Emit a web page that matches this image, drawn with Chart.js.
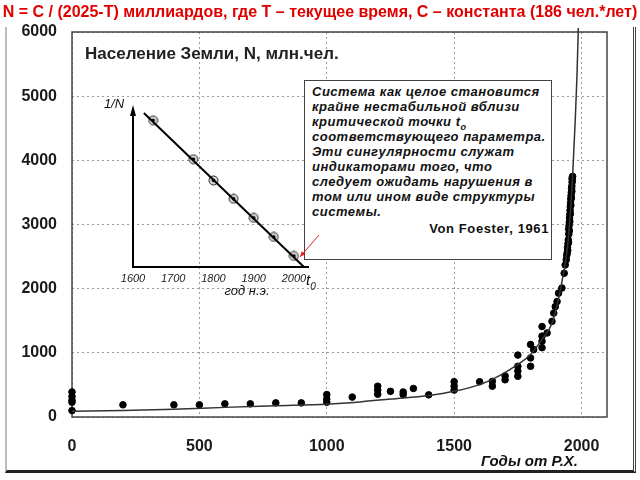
<!DOCTYPE html>
<html lang="ru">
<head>
    <meta charset="UTF-8">
    <title>Население Земли</title>
    <script src="https://cdn.jsdelivr.net/npm/chart.js"></script>
    <style>
        body {
            margin: 0;
            background: white;
            font-family: "Liberation Sans", Arial, sans-serif;
        }
        .slide {
            position: relative;
            width: 640px;
            height: 480px;
            overflow: hidden;
        }
        .frame {
            position: absolute;
            left: 5px;
            top: 27px;
            width: 626px;
            height: 443px;
            border-left: 2px solid #bbb;
            border-right: 3px double #444;
            border-bottom: 3px solid #222;
        }
        #chart { position: absolute; left: 0; top: 0; }
        #inset { position: absolute; left: 90px; top: 95px; z-index: 3; }
        .title {
            position: absolute;
            left: 0;
            top: 3px;
            width: 640px;
            text-align: center;
            color: #e00000;
            font-weight: bold;
            font-size: 16px;
            white-space: nowrap;
        }
        .name {
            position: absolute;
            left: 85px;
            top: 44px;
            font-weight: bold;
            font-size: 17px;
            color: #222;
            white-space: nowrap;
        }
        .quote {
            position: absolute;
            left: 304px;
            top: 80px;
            width: 248px;
            height: 180px;
            box-sizing: border-box;
            border: 1px solid #444;
            background: white;
            z-index: 2;
            padding: 3px 2px 0 7px;
            font-style: italic;
            font-weight: bold;
            font-size: 13px;
            line-height: 15px;
            letter-spacing: 0.5px;
            color: #111;
            white-space: nowrap;
        }
        .quote sub { font-size: 9px; line-height: 0; }
        .quote .author {
            font-style: normal;
            text-align: right;
            margin-top: 2px;
            letter-spacing: 0.6px;
        }
        .axis-name {
            position: absolute;
            left: 481px;
            top: 452px;
            font-style: italic;
            font-weight: bold;
            font-size: 15px;
            color: #111;
        }
    </style>
</head>
<body>
    <div class="slide">
        <div class="frame"></div>
        <canvas id="chart" width="640" height="480"></canvas>
        <div class="title">N = C / (2025-T) миллиардов, где T – текущее время, C – константа (186 чел.*лет)</div>
        <div class="name">Население Земли, N, млн.чел.</div>
        <div class="quote">
            Система как целое становится<br>
            крайне нестабильной вблизи<br>
            критической точки t<sub>o</sub><br>
            соответствующего параметра.<br>
            Эти сингулярности служат<br>
            индикаторами того, что<br>
            следует ожидать нарушения в<br>
            том или ином виде структуры<br>
            системы.
            <div class="author">Von Foester, 1961</div>
        </div>
        <canvas id="inset" width="240" height="205"></canvas>
        <div class="axis-name">Годы от Р.Х.</div>
    </div>

    <script>
        // население, млн чел. (точки)
        let years = [
            0, 0, 0, 0, 0, 200, 400, 500, 600, 700, 800, 900,
            1000, 1000, 1000, 1100, 1200, 1200, 1200, 1250, 1300, 1300, 1340, 1400,
            1500, 1500, 1500, 1600, 1650, 1650, 1700, 1700,
            1750, 1750, 1750, 1750, 1800, 1800, 1800, 1812,
            1845, 1845, 1845, 1845, 1865, 1884, 1891, 1897, 1904, 1910, 1923, 1932, 1936,
            1940, 1942, 1944, 1945, 1946, 1947, 1948, 1949, 1950, 1950, 1951, 1952, 1952,
            1953, 1954, 1954, 1955, 1956, 1956, 1957, 1958, 1958, 1959, 1960, 1960,
            1961, 1962, 1962, 1963, 1963, 1964, 1965
        ];
        let population = [
            390, 320, 260, 230, 100, 190, 190, 190, 205, 205, 220, 220,
            350, 280, 230, 310, 480, 420, 355, 400, 390, 350, 445, 345,
            550, 480, 420, 550, 555, 480, 640, 580,
            965, 790, 715, 635, 1130, 920, 790, 1050,
            1410, 1260, 1180, 1080, 1310, 1490, 1620, 1720, 1800, 1930, 2010, 2240, 2370,
            2450, 2520, 2560, 2640, 2600, 2700, 2760, 2720, 2850, 2930, 2980, 3030, 2900,
            3100, 3150, 3050, 3220, 3280, 3170, 3340, 3400, 3300, 3450, 3500, 3410,
            3560, 3600, 3520, 3660, 3720, 3700, 3750
        ];

        // гиперболическая кривая
        let curveYears = [0, 200, 400, 600, 800, 1000, 1130, 1250, 1400, 1500, 1600, 1680,
            1750, 1800, 1845, 1885, 1910, 1925, 1945, 1965, 1975, 1982, 1987, 1990];
        let curveValues = [90, 100, 120, 150, 175, 200, 235, 280, 335, 400, 505, 650,
            820, 975, 1210, 1470, 1850, 2150, 2650, 3750, 4600, 5300, 6000, 6500];

        let xTicks = [0, 500, 1000, 1500, 2000];
        let yTicks = [0, 1000, 2000, 3000, 4000, 5000, 6000];

        // врезка 1/N
        let insetYears = [1650, 1750, 1800, 1850, 1900, 1950, 2000];
        let insetInverse = [2.0, 1.47, 1.18, 0.93, 0.67, 0.41, 0.15];
        let lineYears = [1627, 2025];
        let lineInverse = [2.1, 0];
        let insetTicks = [1600, 1700, 1800, 1900, 2000];

        Chart.defaults.font.family = '"Liberation Sans", Arial, sans-serif';
        Chart.defaults.animation = false;

        let frame = {
            id: 'frame',
            beforeDatasetsDraw(chart) {
                let a = chart.chartArea;
                let ctx = chart.ctx;
                ctx.save();
                ctx.strokeStyle = '#444';
                ctx.lineWidth = 1.5;
                ctx.strokeRect(a.left, a.top, a.right - a.left, a.bottom - a.top);
                ctx.restore();
            }
        };

        new Chart(document.getElementById('chart'), {
            type: 'scatter',
            data: {
                datasets: [{
                    data: curveYears.map((x, i) => ({ x: x, y: curveValues[i] })),
                    showLine: true,
                    borderColor: '#333',
                    borderWidth: 1.5,
                    pointRadius: 0,
                    cubicInterpolationMode: 'monotone',
                    clip: { left: 0, top: 4, right: 0, bottom: 0 }
                }, {
                    data: years.map((x, i) => ({ x: x, y: population[i] })),
                    backgroundColor: '#000',
                    borderColor: '#000',
                    pointRadius: 3.3,
                    clip: false
                }]
            },
            options: {
                responsive: false,
                layout: { padding: { top: 32, right: 33, left: 0, bottom: 0 } },
                plugins: { legend: { display: false }, tooltip: { enabled: false } },
                scales: {
                    x: {
                        type: 'linear',
                        min: 0,
                        max: 2100,
                        afterBuildTicks: s => { s.ticks = xTicks.map(v => ({ value: v })); },
                        afterFit: s => { s.height = 63; },
                        grid: { color: '#9a9a9a', drawTicks: false },
                        border: { display: false, dash: [2, 3] },
                        ticks: {
                            padding: 20,
                            color: '#1a1a1a',
                            font: { size: 16, weight: 'bold' },
                            callback: v => String(v)
                        }
                    },
                    y: {
                        min: 0,
                        max: 6000,
                        afterBuildTicks: s => { s.ticks = yTicks.map(v => ({ value: v })); },
                        afterFit: s => { s.width = 72; },
                        grid: { color: '#9a9a9a', drawTicks: false },
                        border: { display: false, dash: [2, 3] },
                        ticks: {
                            padding: 15,
                            color: '#1a1a1a',
                            font: { size: 16, weight: 'bold' },
                            callback: v => String(v)
                        }
                    }
                }
            },
            plugins: [frame]
        });

        // кружок с точкой для врезки
        let ring = document.createElement('canvas');
        ring.width = 11;
        ring.height = 11;
        let rc = ring.getContext('2d');
        rc.fillStyle = '#d8d8d8';
        rc.strokeStyle = '#222';
        rc.lineWidth = 1;
        rc.beginPath();
        rc.arc(5.5, 5.5, 4.5, 0, 2 * Math.PI);
        rc.fill();
        rc.stroke();
        rc.fillStyle = '#000';
        rc.beginPath();
        rc.arc(5.5, 5.5, 1.8, 0, 2 * Math.PI);
        rc.fill();

        let insetDecor = {
            id: 'insetDecor',
            afterDraw(chart) {
                let ctx = chart.ctx;
                let a = chart.chartArea;
                let sx = chart.scales.x;
                let sy = chart.scales.y;
                ctx.save();
                // стрелка оси 1/N
                ctx.fillStyle = '#000';
                ctx.beginPath();
                ctx.moveTo(a.left, a.top - 5);
                ctx.lineTo(a.left - 3, a.top + 6);
                ctx.lineTo(a.left + 3, a.top + 6);
                ctx.closePath();
                ctx.fill();

                ctx.fillStyle = '#111';
                ctx.textAlign = 'center';
                ctx.textBaseline = 'middle';
                ctx.font = 'italic 13px "Liberation Sans", Arial';
                ctx.fillText('1/N', a.left - 19, a.top - 6);
                ctx.fillText('год н.э.', 157, 196);
                ctx.font = 'italic 15px "Liberation Sans", Arial';
                ctx.fillText('t', 218, 186);
                ctx.font = 'italic 10px "Liberation Sans", Arial';
                ctx.fillText('0', 223, 192);

                // красная стрелка к точке t0
                let tx = sx.getPixelForValue(insetYears[6]) + 6;
                let ty = sy.getPixelForValue(insetInverse[6]) + 1;
                let fx = 229, fy = 140;
                let ang = Math.atan2(ty - fy, tx - fx);
                ctx.strokeStyle = '#e02020';
                ctx.fillStyle = '#e02020';
                ctx.lineWidth = 1;
                ctx.beginPath();
                ctx.moveTo(fx, fy);
                ctx.lineTo(tx, ty);
                ctx.stroke();
                ctx.beginPath();
                ctx.moveTo(tx, ty);
                ctx.lineTo(tx - 6 * Math.cos(ang - 0.4), ty - 6 * Math.sin(ang - 0.4));
                ctx.lineTo(tx - 6 * Math.cos(ang + 0.4), ty - 6 * Math.sin(ang + 0.4));
                ctx.closePath();
                ctx.fill();
                ctx.restore();
            }
        };

        new Chart(document.getElementById('inset'), {
            type: 'scatter',
            data: {
                datasets: [{
                    data: lineYears.map((x, i) => ({ x: x, y: lineInverse[i] })),
                    showLine: true,
                    borderColor: '#000',
                    borderWidth: 2,
                    pointRadius: 0,
                    clip: false
                }, {
                    data: insetYears.map((x, i) => ({ x: x, y: insetInverse[i] })),
                    pointStyle: ring,
                    clip: false
                }]
            },
            options: {
                responsive: false,
                layout: { padding: { top: 15, right: 22, left: 0, bottom: 0 } },
                plugins: { legend: { display: false }, tooltip: { enabled: false } },
                scales: {
                    x: {
                        type: 'linear',
                        min: 1600,
                        max: 2035,
                        afterBuildTicks: s => { s.ticks = insetTicks.map(v => ({ value: v })); },
                        afterFit: s => { s.height = 33; },
                        grid: { display: false },
                        border: { color: '#000', width: 2 },
                        ticks: {
                            padding: -3,
                            color: '#222',
                            maxRotation: 0,
                            font: { size: 11, style: 'italic' },
                            callback: v => String(v)
                        }
                    },
                    y: {
                        min: 0,
                        max: 2.14,
                        afterFit: s => { s.width = 43; },
                        grid: { display: false },
                        border: { color: '#000', width: 2 },
                        ticks: { display: false }
                    }
                }
            },
            plugins: [insetDecor]
        });
    </script>
</body>
</html>
